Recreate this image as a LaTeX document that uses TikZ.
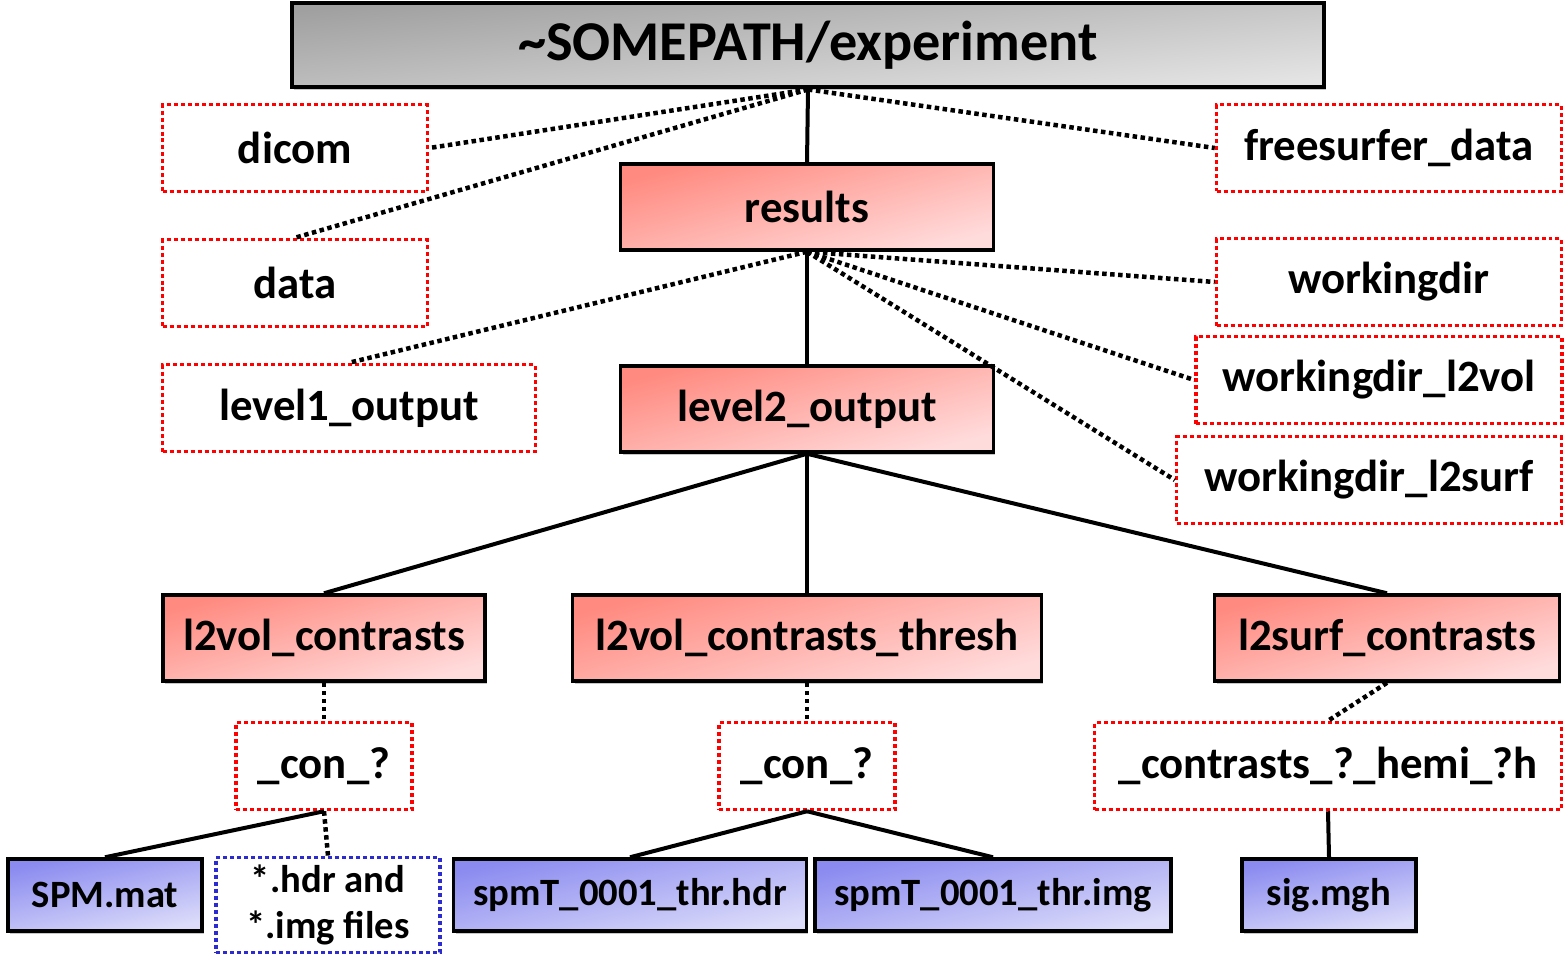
\documentclass[tikz,border=0pt]{standalone}
\usepackage{fontspec}
\setmainfont{Carlito}
\usetikzlibrary{positioning,shadows}
\definecolor{rootgray}{HTML}{A0A0A0}
\definecolor{rootgraylight}{HTML}{E4E4E4}
\definecolor{dirred}{HTML}{FF8A80}
\definecolor{dirredlight}{HTML}{FFDCDC}
\definecolor{fileblue}{HTML}{8A8AF0}
\definecolor{filebluelight}{HTML}{DCDCFA}
\definecolor{optred}{HTML}{FF0000}
\definecolor{optblue}{HTML}{2B2BD0}

\begin{document}
\begin{tikzpicture}[x=0.02cm,y=-0.02cm,
  every node/.style={font=\bfseries\fontsize{25.5}{30}\selectfont,inner sep=0pt,align=center},
  boxshadow/.style={drop shadow={shadow xshift=0.04cm,shadow yshift=-0.05cm,fill=black,opacity=0.22}},
  rootbox/.style={draw=black,line width=0.08cm,top color=rootgray,bottom color=rootgraylight,shading angle=6,
    minimum height=1.70cm,font=\bfseries\fontsize{32}{38}\selectfont,boxshadow},
  dirbox/.style={draw=black,line width=0.07cm,top color=dirred,bottom color=dirredlight,shading angle=15,
    minimum height=1.72cm,boxshadow},
  optbox/.style={draw=optred,line width=0.07cm,dash pattern=on 0.08cm off 0.06cm,fill=white,minimum height=1.74cm},
  filebox/.style={draw=black,line width=0.07cm,top color=fileblue,bottom color=filebluelight,shading angle=12,
    minimum height=1.44cm,font=\bfseries\fontsize{22}{26}\selectfont,boxshadow},
  optfile/.style={draw=optblue,line width=0.07cm,dash pattern=on 0.08cm off 0.06cm,fill=white,
    minimum height=1.90cm,font=\bfseries\fontsize{22}{26}\selectfont},
  link/.style={line width=0.08cm},
  optlink/.style={line width=0.09cm,dash pattern=on 0.09cm off 0.07cm},
]
  \useasboundingbox (0,0) rectangle (1567,964);
  % top directory
  \node[rootbox,minimum width=20.66cm] (root) at (808,45) {\textasciitilde SOMEPATH/experiment};
  % optional directories beside the tree
  \node[optbox,minimum width=5.30cm] (dicom) at (295,148) {dicom};
  \node[optbox,minimum width=5.30cm] (data) at (295,283) {data};
  \node[optbox,minimum width=7.46cm] (level1) at (349,408) {level1\_output};
  \node[optbox,minimum width=6.90cm] (fsdata) at (1389,148) {freesurfer\_data};
  \node[optbox,minimum width=6.90cm] (wdir) at (1389,282) {workingdir};
  \node[optbox,minimum width=7.32cm] (wdirvol) at (1379,380) {workingdir\_l2vol};
  \node[optbox,minimum width=7.70cm] (wdirsurf) at (1369,480) {workingdir\_l2surf};
  % main branch
  \node[dirbox,minimum width=7.46cm] (results) at (807,207) {results};
  \node[dirbox,minimum width=7.46cm] (level2) at (807,409) {level2\_output};
  \node[dirbox,minimum width=6.44cm] (volcon) at (324,638) {l2vol\_contrasts};
  \node[dirbox,minimum width=9.38cm] (volthr) at (807,638) {l2vol\_contrasts\_thresh};
  \node[dirbox,minimum width=6.90cm] (surfcon) at (1387,638) {l2surf\_contrasts};
  % contrast folders
  \node[optbox,minimum width=3.52cm] (conA) at (324,766) {\_con\_?};
  \node[optbox,minimum width=3.52cm] (conB) at (807,766) {\_con\_?};
  \node[optbox,minimum width=9.34cm] (hemi) at (1328,766) {\_contrasts\_?\_hemi\_?h};
  % files
  \node[filebox,minimum width=3.88cm] (spmmat) at (105,895) {SPM.mat};
  \node[optfile,minimum width=4.48cm] (hdrimg) at (328,905) {*.hdr and\\*.img files};
  \node[filebox,minimum width=7.06cm] (thrhdr) at (630,895) {spmT\_0001\_thr.hdr};
  \node[filebox,minimum width=7.12cm] (thrimg) at (993,895) {spmT\_0001\_thr.img};
  \node[filebox,minimum width=3.48cm] (sig) at (1329,895) {sig.mgh};
  % connectors
  \draw[optlink] (root.south) -- (dicom.east);
  \draw[optlink] (root.south) -- (data.north);
  \draw[optlink] (root.south) -- (fsdata.west);
  \draw[link] (root.south) -- (results.north);
  \draw[optlink] (results.south) -- (level1.north);
  \draw[optlink] (results.south) -- (wdir.west);
  \draw[optlink] (results.south) -- (wdirvol.west);
  \draw[optlink] (results.south) -- (wdirsurf.west);
  \draw[link] (results.south) -- (level2.north);
  \foreach \n in {volcon,volthr,surfcon}
    \draw[link] (level2.south) -- (\n.north);
  \draw[optlink] (volcon.south) -- (conA.north);
  \draw[optlink] (volthr.south) -- (conB.north);
  \draw[optlink] (surfcon.south) -- (hemi.north);
  \draw[link] (conA.south) -- (spmmat.north);
  \draw[optlink] (conA.south) -- (hdrimg.north);
  \draw[link] (conB.south) -- (thrhdr.north);
  \draw[link] (conB.south) -- (thrimg.north);
  \draw[link] (hemi.south) -- (sig.north);
\end{tikzpicture}
\end{document}
